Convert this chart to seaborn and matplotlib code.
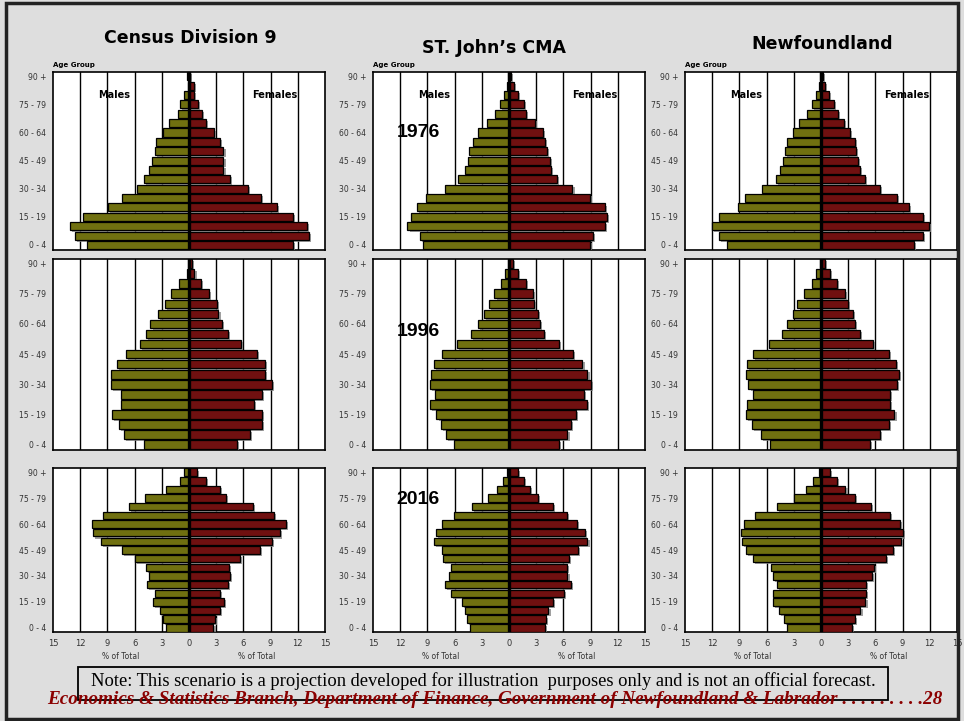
import matplotlib
matplotlib.use("Agg")
import matplotlib.pyplot as plt
import matplotlib.patheffects as pe
from matplotlib.patches import Rectangle
import numpy as np
import pandas as pd
import seaborn as sns

# grupos de edad, de 0-4 a 90+
edades = ["0 - 4", "5 - 9", "10 - 14", "15 - 19", "20 - 24", "25 - 29", "30 - 34",
          "35 - 39", "40 - 44", "45 - 49", "50 - 54", "55 - 59", "60 - 64",
          "65 - 69", "70 - 74", "75 - 79", "80 - 84", "85 - 89", "90 +"]

regiones = ["Census Division 9", "ST. John's CMA", "Newfoundland"]
anios = ["1976", "1996", "2016"]

# % del total, desde 0-4 hasta 90+
cd9_1976_h = [11.2, 12.6, 13.1, 11.7, 8.9, 7.4, 5.7, 5.0, 4.4, 4.1, 3.8, 3.6, 2.9, 2.2, 1.2, 1.0, 0.5, 0.15, 0.25]
cd9_1976_m = [11.5, 13.2, 13.0, 11.5, 9.7, 7.9, 6.5, 4.5, 3.8, 3.8, 3.8, 3.4, 2.8, 1.9, 1.4, 1.0, 0.5, 0.55, 0.1]
stj_1976_h = [9.5, 9.8, 11.2, 10.8, 10.2, 9.2, 7.1, 5.6, 4.9, 4.5, 4.4, 4.0, 3.4, 2.4, 1.5, 1.0, 0.6, 0.25, 0.1]
stj_1976_m = [8.9, 9.3, 10.6, 10.8, 10.6, 8.9, 7.0, 5.3, 4.6, 4.5, 4.2, 4.0, 3.7, 2.9, 1.9, 1.7, 1.0, 0.5, 0.2]
nl_1976_h = [10.4, 11.25, 12.0, 11.25, 9.2, 8.4, 6.5, 5.0, 4.55, 4.15, 4.0, 3.8, 3.1, 2.4, 1.55, 1.0, 0.55, 0.25, 0.07]
nl_1976_m = [10.25, 11.25, 11.95, 11.25, 9.75, 8.4, 6.5, 4.8, 4.3, 4.1, 3.9, 3.75, 3.2, 2.5, 1.9, 1.4, 0.85, 0.45, 0.2]

cd9_1996_h = [4.95, 7.2, 7.75, 8.5, 7.5, 7.5, 8.65, 8.65, 7.9, 7.0, 5.45, 4.7, 4.25, 3.4, 2.7, 2.0, 1.05, 0.25, 0.15]
cd9_1996_m = [5.25, 6.7, 8.05, 8.05, 7.15, 8.05, 9.2, 8.35, 8.35, 7.45, 5.7, 4.25, 3.6, 3.25, 3.1, 2.2, 1.3, 0.6, 0.3]
stj_1996_h = [6.05, 7.0, 7.55, 8.0, 8.7, 8.2, 8.7, 8.6, 8.25, 7.4, 5.7, 4.15, 3.4, 2.75, 2.25, 1.6, 0.9, 0.4, 0.07]
stj_1996_m = [5.5, 6.45, 6.8, 7.35, 8.55, 8.3, 9.0, 8.65, 8.1, 7.1, 5.5, 3.9, 3.4, 3.15, 2.8, 2.6, 1.9, 0.95, 0.4]
nl_1996_h = [5.65, 6.65, 7.6, 8.3, 8.2, 7.5, 8.0, 8.25, 8.2, 7.5, 5.7, 4.3, 3.75, 3.1, 2.6, 1.85, 1.0, 0.5, 0.07]
nl_1996_m = [5.35, 6.5, 7.5, 8.1, 7.65, 7.6, 8.4, 8.6, 8.3, 7.5, 5.7, 4.25, 3.7, 3.5, 3.0, 2.6, 1.8, 0.95, 0.45]

cd9_2016_h = [2.55, 2.85, 3.25, 3.95, 3.75, 4.65, 4.4, 4.75, 5.95, 7.35, 9.75, 10.55, 10.65, 9.5, 6.6, 4.9, 2.5, 1.0, 0.5]
cd9_2016_m = [2.7, 2.85, 3.45, 3.9, 3.45, 4.25, 4.55, 4.4, 5.6, 7.8, 9.1, 10.0, 10.7, 9.4, 7.1, 4.1, 3.4, 1.85, 0.9]
stj_2016_h = [4.3, 4.6, 4.85, 5.15, 6.4, 7.1, 6.65, 6.4, 7.3, 7.4, 8.3, 8.05, 7.4, 6.1, 4.05, 2.3, 1.3, 0.7, 0.2]
stj_2016_m = [4.0, 4.1, 4.35, 4.8, 6.05, 6.8, 6.45, 6.35, 6.65, 7.6, 8.65, 8.35, 7.45, 6.35, 4.8, 3.2, 2.3, 1.7, 0.95]
nl_2016_h = [3.75, 4.1, 4.6, 5.3, 5.3, 4.85, 5.3, 5.5, 7.55, 8.25, 8.75, 8.8, 8.5, 7.3, 4.9, 2.95, 1.6, 0.85, 0.25]
nl_2016_m = [3.4, 3.75, 4.35, 4.9, 5.0, 5.0, 5.6, 5.8, 7.2, 7.9, 8.8, 9.05, 8.7, 7.6, 5.5, 3.7, 2.7, 1.8, 1.0]

datos = {
    ("Census Division 9", "1976"): (cd9_1976_h, cd9_1976_m),
    ("ST. John's CMA", "1976"): (stj_1976_h, stj_1976_m),
    ("Newfoundland", "1976"): (nl_1976_h, nl_1976_m),
    ("Census Division 9", "1996"): (cd9_1996_h, cd9_1996_m),
    ("ST. John's CMA", "1996"): (stj_1996_h, stj_1996_m),
    ("Newfoundland", "1996"): (nl_1996_h, nl_1996_m),
    ("Census Division 9", "2016"): (cd9_2016_h, cd9_2016_m),
    ("ST. John's CMA", "2016"): (stj_2016_h, stj_2016_m),
    ("Newfoundland", "2016"): (nl_2016_h, nl_2016_m),
}

# tabla larga para seaborn (hombres en negativo)
filas = []
for (reg, an), (hom, muj) in datos.items():
    for e, h, m in zip(edades, hom, muj):
        filas.append((reg, an, e, "Males", -h))
        filas.append((reg, an, e, "Females", m))
df = pd.DataFrame(filas, columns=["region", "anio", "edad", "sexo", "pct"])

sns.set_theme(style="white")
plt.rcParams["font.family"] = ["DejaVu Sans"]
plt.rcParams["text.color"] = "black"

GRIS = "#dedede"
colores = {"Males": "#808000", "Females": "#800000"}
orden = edades[::-1]  # 90+ arriba

fig = plt.figure(figsize=(9.64, 7.21), dpi=100)
fig.patch.set_facecolor(GRIS)
fig.patches.append(Rectangle((0.006, 0.003), 0.988, 0.993, transform=fig.transFigure,
                             fill=False, edgecolor="#222222", linewidth=2.5))

W = 964
H = 721
cols_x = [53, 373, 685]
filas_y = [(72, 250), (259, 450), (468, 632)]
pos_anio = {"1976": 6.0, "1996": 6.8, "2016": 3.2}
sombra = [pe.SimplePatchShadow(offset=(1.5, -1.5), shadow_rgbFace="#888888", alpha=0.8), pe.Normal()]

for i, an in enumerate(anios):
    top, bot = filas_y[i]
    for j, reg in enumerate(regiones):
        ax = fig.add_axes([cols_x[j] / W, 1 - bot / H, 272 / W, (bot - top) / H])
        sub = df[(df["region"] == reg) & (df["anio"] == an)]
        sns.barplot(data=sub, x="pct", y="edad", hue="sexo", order=orden,
                    hue_order=["Males", "Females"], palette=colores, dodge=False,
                    width=0.86, errorbar=None, edgecolor="black", linewidth=0.9,
                    legend=False, orient="h", ax=ax, zorder=3)
        for p in ax.patches:
            p.set_path_effects(sombra)
        ax.set_facecolor("white")
        ax.set_xlim(-15, 15)
        if i == 2:
            ax.set_ylim(18.48, -0.48)
        else:
            ax.set_ylim(18.54, -0.46)
        for g in np.arange(-12, 13, 3):
            ax.axvline(g, color="black", linewidth=1.0 if g != 0 else 2.4, zorder=2 if g != 0 else 4)
        for s in ax.spines.values():
            s.set_color("black")
            s.set_linewidth(1.2)
        ax.set_yticks(range(0, 19, 3))
        ax.set_yticklabels([orden[k] for k in range(0, 19, 3)], fontsize=5.5, color="#333333")
        ax.tick_params(axis="y", length=0, pad=5)
        ax.set_xlabel("")
        ax.set_ylabel("")
        if i == 2:
            ticks = np.arange(-15, 16, 3)
            ax.set_xticks(ticks)
            ax.set_xticklabels([str(abs(t)) for t in ticks], fontsize=6, color="#333333")
            ax.tick_params(axis="x", length=0, pad=5)
            for xx in (-7.5, 7.5):
                ax.text(xx, -0.12, "% of Total", transform=ax.get_xaxis_transform(),
                        ha="center", va="top", fontsize=5.5, color="#333333")
        else:
            ax.set_xticks([])
        if i == 0:
            ax.text(0, 1.02, "Age Group", transform=ax.transAxes, fontsize=5,
                    fontweight="bold", ha="left", va="bottom")
            ax.text(-8.3, 2, "Males", fontsize=7, fontweight="bold", ha="center", va="center", zorder=5)
            ax.text(9.5, 2, "Females", fontsize=7, fontweight="bold", ha="center", va="center", zorder=5)
        if j == 1:
            ax.text(-10.0, pos_anio[an], an, fontsize=14, fontweight="bold",
                    family="Liberation Sans", ha="center", va="center", zorder=5)

# titulos de columnas
fig.text(190 / W, 1 - 38 / H, "Census Division 9", fontsize=12.5, fontweight="bold", ha="center", va="center")
fig.text(494 / W, 1 - 48 / H, "ST. John\u2019s CMA", fontsize=12.5, fontweight="bold", ha="center", va="center")
fig.text(822 / W, 1 - 44 / H, "Newfoundland", fontsize=12.5, fontweight="bold", ha="center", va="center")

# nota y pie
fig.patches.append(Rectangle((78 / W, 1 - 700 / H), 810 / W, 33 / H, transform=fig.transFigure,
                             fill=False, edgecolor="black", linewidth=1.3, zorder=3))
fig.text(483 / W, 1 - 681 / H,
         "Note: This scenario is a projection developed for illustration  purposes only and is not an official forecast.",
         fontsize=13.3, family="Liberation Serif", ha="center", va="center")
fig.text(47 / W, 1 - 699 / H,
         "Economics & Statistics Branch, Department of Finance, Government of Newfoundland & Labrador . . . . . . . . .28",
         fontsize=13.8, family="Liberation Serif", fontweight="bold", fontstyle="italic",
         color="#8b0000", ha="left", va="center")

fig.savefig("out.png", dpi=100, facecolor=fig.get_facecolor())
